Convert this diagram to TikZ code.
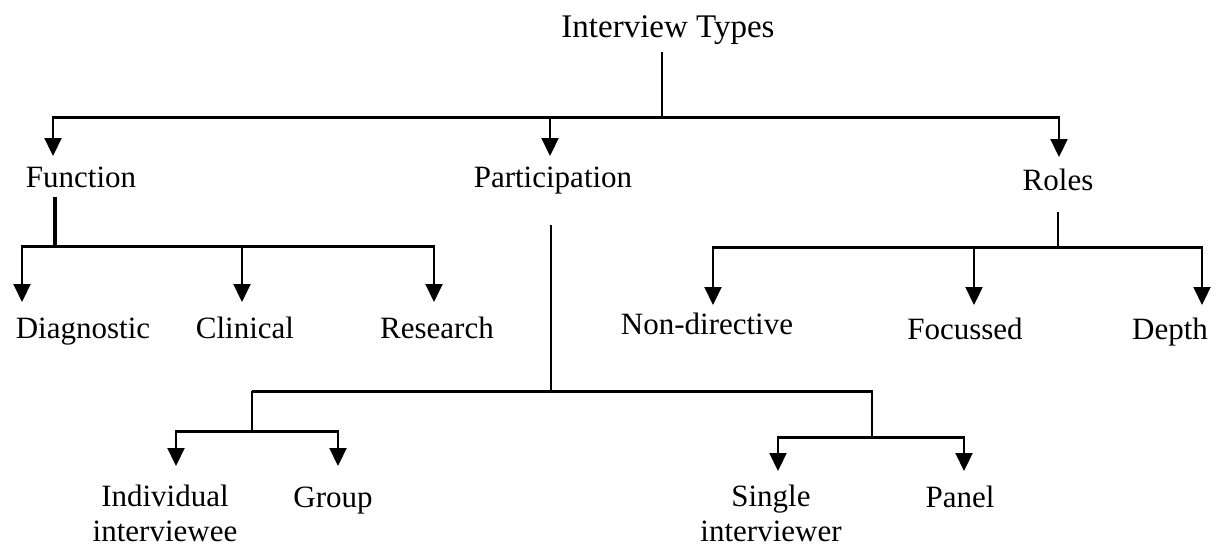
\documentclass[tikz,border=0pt]{standalone}
\usepackage{fontspec}
\setmainfont{Liberation Serif}
\usetikzlibrary{arrows.meta}
\begin{document}
\begin{tikzpicture}[x=1pt,y=-1pt,
  lbl/.style={font=\fontsize{31}{35}\selectfont, inner sep=0pt, anchor=base, align=center},
  lbl2/.style={font=\fontsize{31}{35}\selectfont, inner sep=0pt, anchor=center, align=center},
  bar/.style={line width=3pt},
  stem/.style={line width=1.7pt},
  thickstem/.style={line width=4.2pt},
  arr/.style={line width=2.2pt, -{Triangle[width=17pt,length=18pt]}},
]
\useasboundingbox (0,0) rectangle (1221,546);

% labels
\node[lbl, font=\fontsize{33}{38}\selectfont] (title) at (668,37) {Interview Types};
\node[lbl] (function) at (81,187) {Function};
\node[lbl] (participation) at (553,187) {Participation};
\node[lbl] (roles) at (1058,190) {Roles};
\node[lbl] (diag) at (83,338) {Diagnostic};
\node[lbl] (clinical) at (245,338) {Clinical};
\node[lbl] (research) at (437,338) {Research};
\node[lbl] (nondir) at (707,334) {Non-directive};
\node[lbl] (focussed) at (965,339) {Focussed};
\node[lbl] (depth) at (1170,339) {Depth};
\node[lbl2] (indiv) at (165,513) {Individual\\interviewee};
\node[lbl] (group) at (333,507) {Group};
\node[lbl2] (single) at (771,513) {Single\\interviewer};
\node[lbl] (panel) at (960,507) {Panel};

% junction coordinates
\coordinate (t0) at (662,52);
\coordinate (t1) at (662,117);
\coordinate (tl) at (52,117);
\coordinate (tm) at (550,117);
\coordinate (tr) at (1060,117);
\coordinate (af) at (53,156);
\coordinate (ap) at (550,156);
\coordinate (ar) at (1059,157);

\coordinate (f0) at (55,197);
\coordinate (f1) at (55,246);
\coordinate (fl) at (21,246);
\coordinate (fm) at (242,246);
\coordinate (fr) at (435,246);
\coordinate (afl) at (22,302);
\coordinate (afm) at (242,302);
\coordinate (afr) at (434,302);

\coordinate (p0) at (551,225);
\coordinate (p1) at (551,391);
\coordinate (pl) at (251.5,391);
\coordinate (pr) at (872.5,391);
\coordinate (pl2) at (252,431);
\coordinate (pll) at (175,431);
\coordinate (plr) at (339,431);
\coordinate (apll) at (176,466);
\coordinate (aplr) at (338,466);
\coordinate (pr2) at (872,437);
\coordinate (prl) at (777,437);
\coordinate (prr) at (965,437);
\coordinate (aprl) at (778,471);
\coordinate (aprr) at (964,471);

\coordinate (r0) at (1058,212);
\coordinate (r1) at (1058,247);
\coordinate (rl) at (712,247);
\coordinate (rm) at (974,247);
\coordinate (rr) at (1203,247);
\coordinate (arl) at (713,305);
\coordinate (arm) at (974,305);
\coordinate (arr) at (1202,305);

% top level
\draw[stem] (t0) -- (t1);
\draw[bar] (tl) -- (tr);
\draw[arr] (tl -| af) -- (af);
\draw[arr] (tm) -- (ap);
\draw[arr] (tr -| ar) -- (ar);

% function
\draw[thickstem] (f0) -- (f1);
\draw[bar] (fl) -- (fr);
\draw[arr] (fl -| afl) -- (afl);
\draw[arr] (fm) -- (afm);
\draw[arr] (fr -| afr) -- (afr);

% participation
\draw[stem] (p0) -- (p1);
\draw[bar] (pl) -- (pr);
\draw[stem] (pl -| pl2) -- (pl2);
\draw[bar] (pll) -- (plr);
\draw[arr] (pll -| apll) -- (apll);
\draw[arr] (plr -| aplr) -- (aplr);
\draw[stem] (pr -| pr2) -- (pr2);
\draw[bar] (prl) -- (prr);
\draw[arr] (prl -| aprl) -- (aprl);
\draw[arr] (prr -| aprr) -- (aprr);

% roles
\draw[stem] (r0) -- (r1);
\draw[bar] (rl) -- (rr);
\draw[arr] (rl -| arl) -- (arl);
\draw[arr] (rm) -- (arm);
\draw[arr] (rr -| arr) -- (arr);
\end{tikzpicture}
\end{document}
